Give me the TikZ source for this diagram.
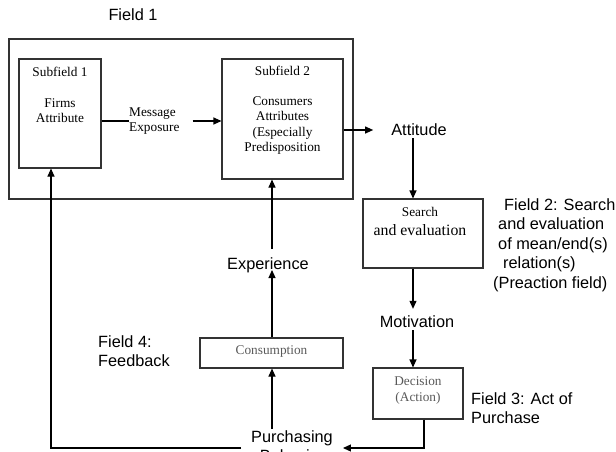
\documentclass[tikz,border=0pt]{standalone}
\usepackage{fontspec}
\setmainfont{Liberation Serif}
\setsansfont{Liberation Sans}
\usetikzlibrary{arrows.meta,calc}
\tikzset{
  boxline/.style={draw=black!80, line width=1.1pt, inner sep=0pt},
  lab/.style={font=\sffamily\fontsize{16.3}{19.6}\selectfont, inner sep=0pt, text=black},
  serif/.style={font=\rmfamily\fontsize{13.3}{15.2}\selectfont, inner sep=0pt, align=center},
  gserif/.style={serif, text=black!65},
  conn/.style={draw=black, line width=1.1pt},
  arr/.style={conn, -{Triangle[length=8pt,width=7pt]}},
}
\begin{document}
\begin{tikzpicture}[x=1pt,y=-1pt]
\useasboundingbox (0,0) rectangle (616,451);
\clip (0,0) rectangle (616,451);

% Field 1
\node[lab] (f1) at (133,15) {Field 1};
\node[boxline, minimum width=344pt, minimum height=160pt] (outer) at (181,119) {};
\node[boxline, minimum width=82pt, minimum height=109pt] (sub1) at (60,113.5) {};
\node[serif] (sub1t) at (60,95) {Subfield 1\\[15.2pt]Firms\\Attribute};
\node[boxline, minimum width=121pt, minimum height=120pt] (sub2) at (282.5,119) {};
\node[serif] (sub2t) at (282.5,110) {Subfield 2\\[15.2pt]Consumers\\Attributes\\(Especially\\Predisposition};
\node[serif, align=left, anchor=west] (msg) at (129,121) {Message\\Exposure};
\draw[conn] (sub1.east |- msg.west) -- (msg.west);
\draw[arr] ([xshift=13pt]msg.east) -- (sub2.west |- msg.east);

% Attitude / search
\coordinate (colx) at (413,0);
\node[lab] (att) at (419,130) {Attitude};
\draw[arr] (sub2.east |- att.west) -- ([xshift=-18pt]att.west);
\node[boxline, minimum width=120pt, minimum height=69pt] (search) at (423,233.5) {};
\node[serif] (st) at (420,212) {Search};
\node[serif, font=\rmfamily\fontsize{15.8}{18}\selectfont] (st2) at (420,230) {and evaluation};
\draw[arr] ([yshift=-2pt]att.south -| colx) -- (search.north -| colx);
\node[lab, align=left, anchor=west] (f2) at (493,245) {\hspace*{11pt}Field 2: Search\\\hspace*{5pt}and evaluation\\\hspace*{5pt}of mean/end(s)\\\hspace*{10pt}relation(s)\\(Preaction field)};

% Motivation / decision
\node[lab] (mot) at (417,322) {Motivation};
\draw[arr] (search.south -| colx) -- ([yshift=7pt]mot.north -| colx);
\node[boxline, minimum width=90pt, minimum height=51pt] (dec) at (418,393.5) {};
\node[gserif] (dect) at (418,390.5) {Decision\\(Action)};
\draw[arr] ([yshift=-2pt]mot.south -| colx) -- (dec.north -| colx);
\node[lab, align=left, anchor=west] (f3) at (471,408) {Field 3: Act of\\Purchase};

% Purchasing behaviour
\node[lab, align=center] (pb) at (292,446) {Purchasing\\Behavior};
\coordinate (decx) at (424,0);
\draw[arr] (dec.south -| decx) |- ([xshift=10pt,yshift=-2pt]pb.east);

% Consumption / experience
\node[boxline, minimum width=143pt, minimum height=30pt] (cons) at (271.5,353) {};
\node[gserif] (const) at (271.5,352) {Consumption};
\node[lab] (exp) at (268,265) {Experience};
\coordinate (expx) at (272,0);
\draw[arr] ([yshift=1pt]pb.north -| expx) -- (cons.south -| expx);
\draw[arr] (cons.north -| expx) -- ([yshift=-5pt]exp.center -| expx);
\draw[arr] ([yshift=8pt]exp.north -| expx) -- (sub2.south -| expx);

% Feedback
\node[lab, align=left, anchor=west] (f4) at (98,351) {Field 4:\\Feedback};
\coordinate (fbx) at (51,0);
\draw[arr] ([xshift=-10pt,yshift=-2pt]pb.west) -| (sub1.south -| fbx);
\end{tikzpicture}
\end{document}
